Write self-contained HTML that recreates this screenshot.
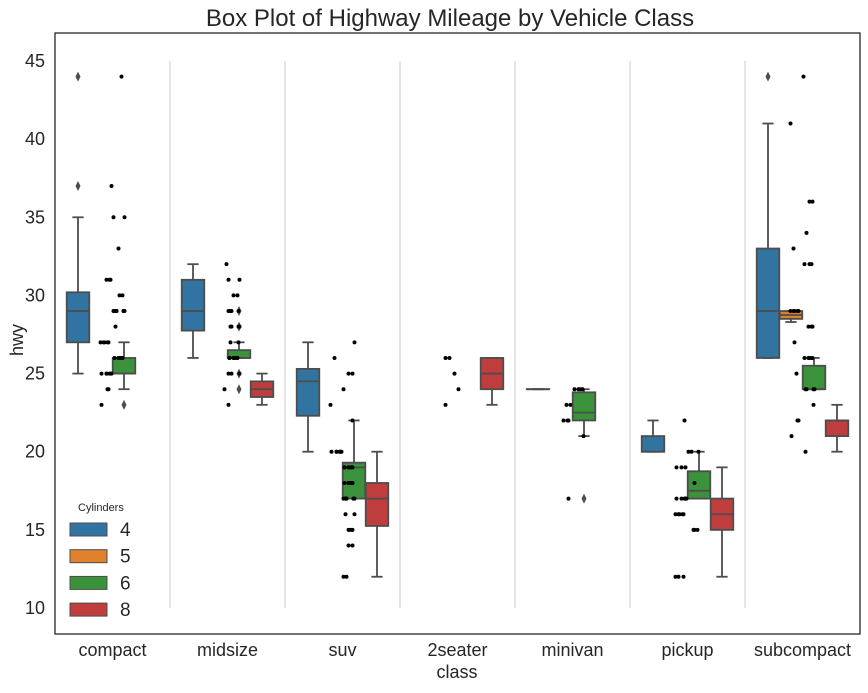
<!DOCTYPE html>
<html><head><meta charset="utf-8"><style>
body{margin:0;background:#fff;font-family:"Liberation Sans",Arial,sans-serif}
svg text{font-family:"Liberation Sans",Arial,sans-serif}
</style></head><body>
<svg id="c" width="868" height="688" xmlns="http://www.w3.org/2000/svg">
<rect width="868" height="688" fill="#fff"/>
<g id="grid"></g><g id="boxes"></g><g id="pts"></g>
<rect x="55" y="33" width="805" height="601" fill="none" stroke="#262626" stroke-width="1.3"/>
<g id="yt"></g><g id="xt"></g>
<text x="450" y="26" font-size="24" text-anchor="middle" fill="#262626">Box Plot of Highway Mileage by Vehicle Class</text>
<text x="457" y="678" font-size="18" text-anchor="middle" fill="#262626">class</text>
<text x="23" y="340" font-size="18" text-anchor="middle" fill="#262626" transform="rotate(-90 23 340)">hwy</text>
<g id="legend"></g>
</svg>
<script>
const categories=["compact","midsize","suv","2seater","minivan","pickup","subcompact"];
const hues=["4","5","6","8"];
const hueColors=["#3274a1","#e1812c","#3a923a","#c03d3e"];
const yTicks=[10,15,20,25,30,35,40,45];
// box stats: [category, hue, lowWhisker, q1, median, q3, highWhisker]
const boxStats=[
["compact","4",25,27,29,30.2,35],["compact","6",24,25,25,26,27],
["midsize","4",26,27.75,29,31,32],["midsize","6",26,26,26,26.5,27],["midsize","8",23,23.5,24,24.5,25],
["suv","4",20,22.3,24.5,25.3,27],["suv","6",17,17,19,19.3,22],["suv","8",12,15.25,17,18,20],
["2seater","8",23,24,25,26,26],
["minivan","4",24,24,24,24,24],["minivan","6",21,22,22.5,23.8,24],
["pickup","4",20,20,20,21,22],["pickup","6",17,17,17.5,18.75,20],["pickup","8",12,15,16,17,19],
["subcompact","4",26,26,29,33,41],["subcompact","5",28.3,28.5,28.75,29,29],["subcompact","6",24,24,24,25.5,26],["subcompact","8",20,21,22,22,23]];
// outliers: [category, hue, value]
const outliers=[["compact","4",44],["compact","4",37],["compact","6",23],
["midsize","6",29],["midsize","6",28],["midsize","6",25],["midsize","6",24],
["minivan","6",17],["subcompact","4",44]];
const stripCompact=[44,37,35,35,33,31,31,31,30,30,29,29,29,29,29,29,29,29,28,27,27,27,27,27,26,26,26,26,26,25,25,25,25,25,25,24,24,23];
const stripMidsize=[32,31,31,30,30,29,29,29,29,28,28,28,28,27,27,26,26,26,26,26,26,25,25,25,24,23];
const stripSuv=[27,26,25,25,24,23,22,20,20,20,20,20,20,20,19,19,19,19,19,19,19,19,18,18,18,18,18,18,17,17,17,17,17,17,17,17,16,16,15,15,15,15,14,14,12,12];
const strip2seater=[26,26,25,24,23];
const stripMinivan=[24,24,24,24,24,23,23,22,22,22,21,17];
const stripPickup=[22,20,20,20,19,19,19,18,17,17,17,17,17,17,16,16,16,16,16,15,15,15,12,12,12];
const stripSubcompact=[44,41,36,36,34,33,32,32,32,29,29,29,29,29,28,28,28,27,26,26,26,26,26,25,24,24,24,24,23,22,22,21,20];
const strips=[stripCompact,stripMidsize,stripSuv,strip2seater,stripMinivan,stripPickup,stripSubcompact];

const NS="http://www.w3.org/2000/svg";
const X0=55,X1=860,step=(X1-X0)/categories.length;
const xCat=c=>X0+step*(categories.indexOf(c)+0.5);
const xHue=(c,h)=>xCat(c)+step*0.2*(hues.indexOf(h)-1.5);
const y=v=>608-(v-10)*(547/35);
const bw=step*0.2*0.98;
function el(t,a,p){const e=document.createElementNS(NS,t);for(const k in a)e.setAttribute(k,a[k]);p.appendChild(e);return e;}
const G=id=>document.getElementById(id);

for(let i=1;i<categories.length;i++){const lx=X0+step*i;
 const l=el("line",{x1:lx,x2:lx,y1:y(45),y2:y(10),stroke:"#e5e5e5","stroke-width":2},G("grid"));
 
 }

yTicks.forEach(v=>{const t=el("text",{x:45,y:y(v)+6,"font-size":18,"text-anchor":"end",fill:"#262626"},G("yt"));t.textContent=v;
 
 });
categories.forEach(c=>{const t=el("text",{x:xCat(c),y:656,"font-size":18,"text-anchor":"middle",fill:"#262626"},G("xt"));t.textContent=c;
 
 });

const jit=[-11,3,-5,9,-1,12,-8,6,-3,1,-12,10,-6,4,-9,7,-2,11,-4,2];
strips.forEach((arr,ci)=>{const cx=X0+step*(ci+0.5);const cnt={};
 arr.forEach((v,i)=>{const k=(cnt[v]=(cnt[v]||0)+1);const j=jit[(k*3+ci+i)%jit.length];
  const d=el("circle",{cx:cx+j,cy:y(v),r:2,fill:"#000"},G("pts"));
  
  });});

const S="#4d4d4d";
boxStats.forEach(b=>{const [c,h,lo,q1,md,q3,hi]=b;const cx=xHue(c,h);const g=el("g",{},G("boxes"));
 
 
 const col=hueColors[hues.indexOf(h)];
 el("line",{x1:cx,x2:cx,y1:y(hi),y2:y(q3),stroke:S,"stroke-width":1.8},g);
 el("line",{x1:cx,x2:cx,y1:y(q1),y2:y(lo),stroke:S,"stroke-width":1.8},g);
 el("line",{x1:cx-bw/4,x2:cx+bw/4,y1:y(hi),y2:y(hi),stroke:S,"stroke-width":1.8},g);
 el("line",{x1:cx-bw/4,x2:cx+bw/4,y1:y(lo),y2:y(lo),stroke:S,"stroke-width":1.8},g);
 el("rect",{x:cx-bw/2,y:y(q3),width:bw,height:Math.max(0.01,y(q1)-y(q3)),fill:col,stroke:S,"stroke-width":1.8},g);
 el("line",{x1:cx-bw/2,x2:cx+bw/2,y1:y(md),y2:y(md),stroke:S,"stroke-width":1.8},g);});
outliers.forEach(o=>{const cx=xHue(o[0],o[1]),cy=y(o[2]);
 const p=el("path",{d:`M${cx} ${cy-5}L${cx+2.5} ${cy}L${cx} ${cy+5}L${cx-2.5} ${cy}Z`,fill:S},G("boxes"));
 
 });

const L=G("legend");
const lt=el("text",{x:78,y:511,"font-size":11,fill:"#262626"},L);lt.textContent="Cylinders";


hues.forEach((h,i)=>{const yy=523+i*26.7;
 const r=el("rect",{x:70,y:yy,width:37,height:13,fill:hueColors[i],stroke:S,"stroke-width":1},L);
 
 
 const t=el("text",{x:120,y:yy+13,"font-size":19,fill:"#262626"},L);t.textContent=h;
 
 });
</script>
</body></html>
